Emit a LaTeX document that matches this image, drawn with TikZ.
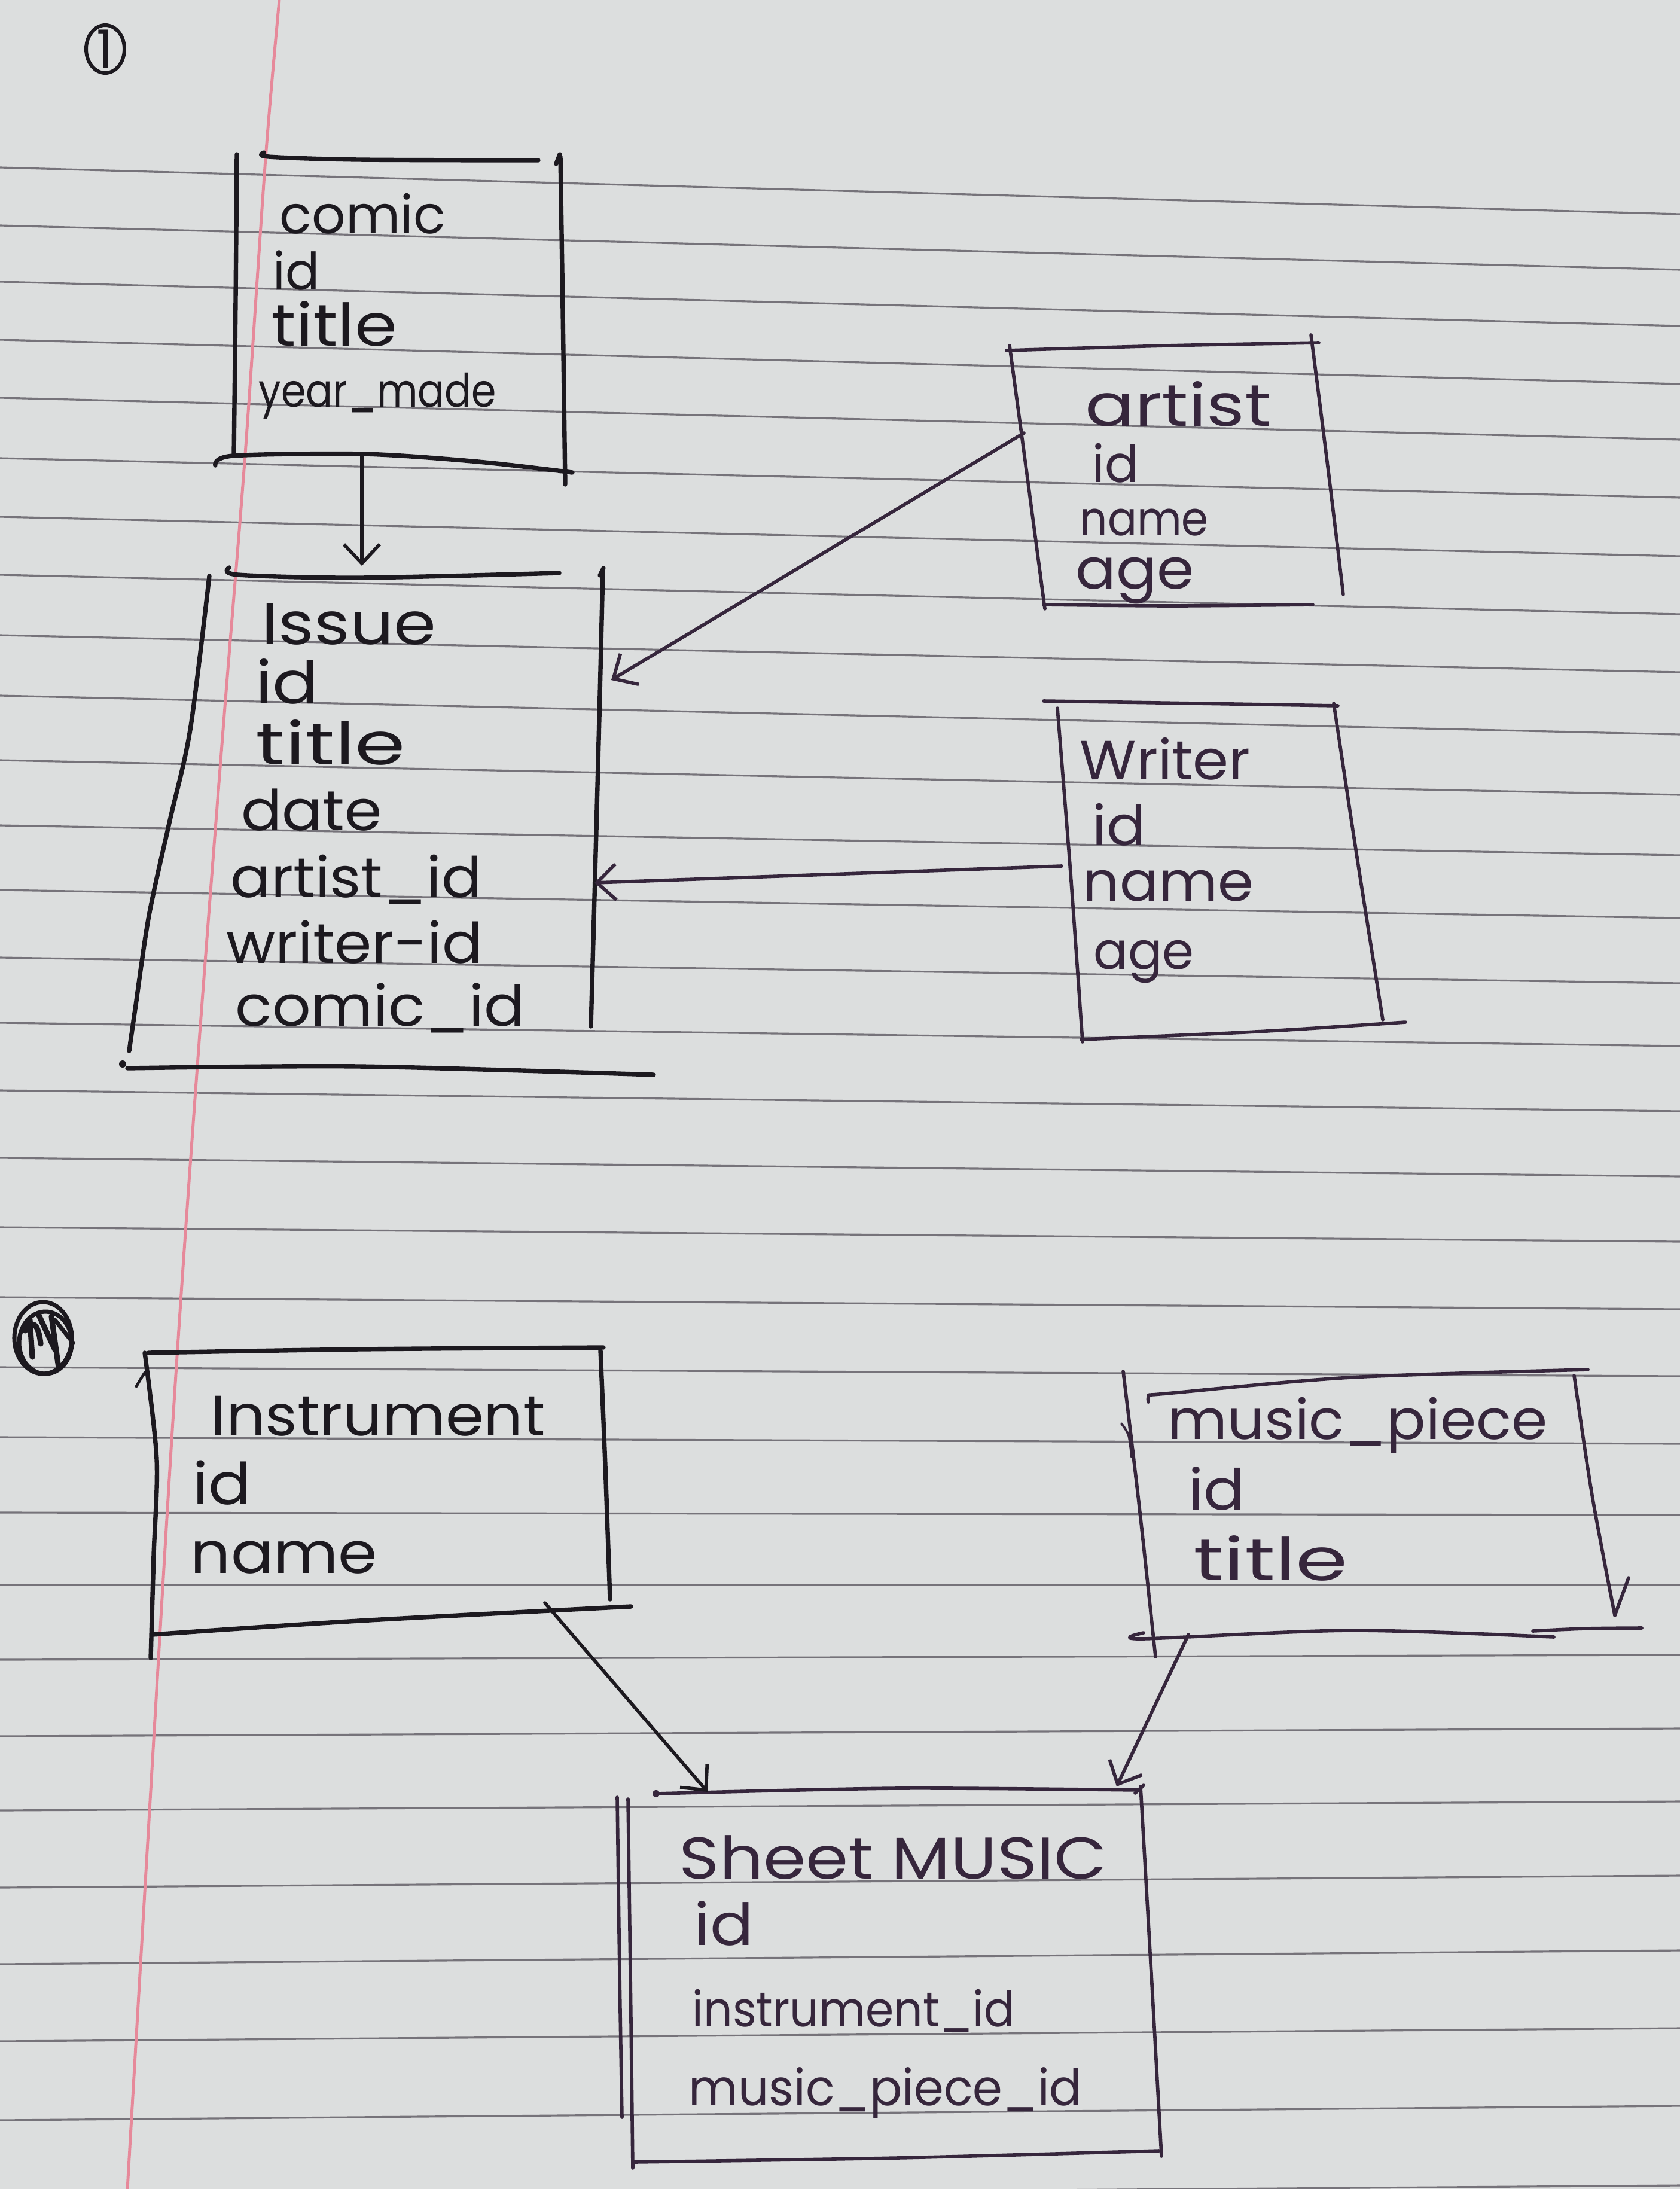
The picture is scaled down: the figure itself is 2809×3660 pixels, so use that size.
\documentclass[tikz,border=0pt]{standalone}
\usepackage{fontspec}
\setmainfont{Poppins}
\usepackage{graphicx}
\usetikzlibrary{arrows.meta}

\definecolor{paper}{HTML}{DCDEDE}
\definecolor{ruleclr}{HTML}{76737A}
\definecolor{marginclr}{HTML}{E6899A}
\definecolor{inkA}{HTML}{1C191F}
\definecolor{inkB}{HTML}{36263C}

% fit a word to a given width: a small uniform scale (kept within
% 0.88..1.12) and a horizontal stretch for the rest
\newdimen\hwht
\newcommand\hw[2]{%
  \setbox0\hbox{#2}%
  \pgfmathsetmacro\hwf{min(max(sqrt((#1)/(\the\wd0)),0.88),1.12)}%
  \hwht=\hwf\ht0\relax
  \resizebox{#1}{\hwht}{#2}}

\tikzset{
  field/.style={anchor=base west, inner sep=0pt, text=inkA, font=\fontsize{25}{30}\selectfont},
  fieldB/.style={field, text=inkB},
  pen/.style={draw=inkA, line width=2.1pt, line cap=round, line join=round},
  fine/.style={draw=inkB, line width=1.6pt, line cap=round, line join=round},
  link/.style={draw=inkA, line width=1.6pt, line cap=round,
    -{Straight Barb[length=9pt,width=17pt,line width=1.6pt]}},
  linkB/.style={link, draw=inkB},
}

\begin{document}
\begin{tikzpicture}[x=0.01cm,y=-0.01cm]
  % sheet of paper
  \fill[paper] (0,0) rectangle (2809,3660);
  \useasboundingbox (0,0) rectangle (2809,3660);

  % ruled lines
  \foreach \l/\r in {280/358, 377/451, 471/545, 568/642, 665/735, 766/832, 864/930,
      961/1027, 1062/1124, 1163/1228, 1271/1329, 1380/1430, 1488/1535, 1601/1644,
      1710/1749, 1823/1858, 1936/1967, 2052/2076, 2169/2189, 2286/2301, 2403/2414,
      2529/2533, 2650/2650, 2775/2767, 2903/2890, 3027/3012, 3156/3136, 3284/3261,
      3413/3391, 3545/3521, 3675/3654}
    \draw[ruleclr, line width=0.9pt] (0,\l) -- (2809,\r);

  % margin line
  \draw[marginclr, line width=1.4pt] plot[smooth] coordinates
    {(467,0) (444,265) (410,759) (373,1220) (327,1823) (285,2440) (213,3660)};

  % ---------- part 1 ----------
  \node[field, anchor=center] (sec-one) at (176,82) {1};
  \draw[pen, line width=1.7pt] (sec-one.center) ellipse [x radius=32, y radius=40];

  % comic
  \draw[pen] plot[smooth] coordinates {(396,258) (394,500) (391,762)};
  \draw[pen] plot[smooth] coordinates {(441,255) (449,262) (600,267) (900,268)};
  \draw[pen] (930,274) -- (936,258);
  \draw[pen] plot[smooth] coordinates {(937,262) (941,520) (945,810)};
  \draw[pen] plot[smooth] coordinates {(360,778) (390,762) (608,759) (800,772) (957,790)};
  \node[field] (comic-h) at (467,390) {\hw{2.77cm}{comic}};
  \node[field] (comic-id) at (456,484) {\hw{0.78cm}{id}};
  \node[field] (comic-title) at (453,578) {\hw{2.10cm}{title}};
  \node[field] (comic-year) at (432,680) {\hw{3.97cm}{year\_made}};

  % issue
  \draw[pen] plot[smooth] coordinates {(383,949) (398,961) (600,966) (935,958)};
  \draw[pen] plot[smooth] coordinates {(350,963) (318,1220) (283,1376) (249,1531) (226,1687) (216,1757)};
  \draw[pen] (1003,962) -- (1009,950);
  \draw[pen] plot[smooth] coordinates {(1008,955) (1002,1200) (994,1500) (988,1716)};
  \fill[inkA] (205,1779) circle [radius=6];
  \draw[pen] plot[smooth] coordinates {(213,1786) (600,1783) (1093,1797)};
  \node[field] (issue-h) at (437,1077) {\hw{2.91cm}{Issue}};
  \node[field] (issue-id) at (427,1176) {\hw{1.05cm}{id}};
  \node[field] (issue-title) at (427,1278) {\hw{2.50cm}{title}};
  \node[field] (issue-date) at (403,1388) {\hw{2.35cm}{date}};
  \node[field] (issue-artist) at (385,1500) {\hw{4.20cm}{artist\_id}};
  \node[field] (issue-writer) at (378,1610) {\hw{4.28cm}{writer-id}};
  \node[field] (issue-comic) at (393,1715) {\hw{4.84cm}{comic\_id}};

  % artist
  \draw[fine] plot[smooth] coordinates {(1683,586) (1950,578) (2205,573)};
  \draw[fine] plot[smooth] coordinates {(1688,578) (1718,800) (1747,1018)};
  \draw[fine] plot[smooth] coordinates {(2192,560) (2220,780) (2246,994)};
  \draw[fine] plot[smooth] coordinates {(1745,1011) (1960,1013) (2195,1011)};
  \node[fieldB] (artist-h) at (1814,712) {\hw{3.11cm}{artist}};
  \node[fieldB] (artist-id) at (1826,806) {\hw{0.77cm}{id}};
  \node[fieldB] (artist-name) at (1805,895) {\hw{2.15cm}{name}};
  \node[fieldB] (artist-age) at (1798,984) {\hw{1.98cm}{age}};

  % writer
  \draw[fine] plot[smooth] coordinates {(1745,1172) (2000,1176) (2237,1180)};
  \draw[fine] plot[smooth] coordinates {(1768,1184) (1790,1460) (1810,1742)};
  \draw[fine] plot[smooth] coordinates {(2230,1176) (2270,1440) (2312,1705)};
  \draw[fine] plot[smooth] coordinates {(1808,1738) (2100,1725) (2350,1709)};
  \node[fieldB] (writer-h) at (1805,1303) {\hw{2.85cm}{Writer}};
  \node[fieldB] (writer-id) at (1826,1413) {\hw{0.89cm}{id}};
  \node[fieldB] (writer-name) at (1810,1506) {\hw{2.85cm}{name}};
  \node[fieldB] (writer-age) at (1828,1620) {\hw{1.68cm}{age}};

  % connectors of part 1
  \coordinate (comic-out) at (605,762);
  \coordinate (issue-top) at (605,946);
  \coordinate (artist-w) at (1712,724);
  \coordinate (issue-e1) at (1022,1137);
  \coordinate (writer-w) at (1775,1448);
  \coordinate (issue-e2) at (994,1476);
  \draw[link] (comic-out) -- (issue-top);
  \draw[linkB] (artist-w) -- (issue-e1);
  \draw[linkB] (writer-w) -- (issue-e2);

  % ---------- part 2 ----------
  \coordinate (sec-two) at (72,2237);
  \begin{scope}[shift={(sec-two)}]
    \draw[pen, line width=2pt] (0,0) ellipse [x radius=48, y radius=60];
    \draw[pen, line width=2pt] (4,8) ellipse [x radius=44, y radius=52];
    \draw[pen, line width=2.6pt] (-22,-30) -- (-18,32);
    \draw[pen, line width=2.6pt] (-30,-12) .. controls (-20,-30) and (-8,-28) .. (-4,10);
    \draw[pen, line width=2.6pt] (-8,-40) -- (20,20);
    \draw[pen, line width=2.6pt] (14,-36) -- (26,50);
    \draw[pen, line width=2pt] (20,-30) -- (50,8);
  \end{scope}

  % instrument
  \draw[pen] plot[smooth] coordinates {(248,2262) (600,2256) (1009,2253)};
  \draw[pen] plot[smooth] coordinates {(242,2262) (262,2440) (257,2600) (252,2772)};
  \draw[pen, line width=1.3pt] plot[smooth] coordinates {(228,2318) (235,2306) (242,2295)};
  \draw[pen] plot[smooth] coordinates {(1004,2258) (1012,2450) (1020,2674)};
  \draw[pen] plot[smooth] coordinates {(255,2733) (600,2710) (1055,2686)};
  \node[field] (instr-h) at (352,2400) {\hw{5.59cm}{Instrument}};
  \node[field] (instr-id) at (322,2515) {\hw{0.98cm}{id}};
  \node[field] (instr-name) at (318,2630) {\hw{3.12cm}{name}};

  % music_piece
  \draw[fine] plot[smooth] coordinates {(1878,2293) (1905,2520) (1932,2770)};
  \draw[fine, line width=1.1pt] plot[smooth] coordinates {(1875,2380) (1887,2400) (1892,2436)};
  \draw[fine] plot[smooth] coordinates {(1920,2344) (1922,2333) (1950,2330) (2259,2303) (2655,2290)};
  \draw[fine] plot[smooth] coordinates {(2632,2300) (2662,2500) (2700,2701)};
  \draw[fine] (2700,2701) -- (2723,2638);
  \draw[fine] plot[smooth] coordinates {(2745,2722) (2650,2723) (2563,2727)};
  \draw[fine] plot[smooth] coordinates {(2598,2737) (2259,2726) (1909,2740) (1912,2730)};
  \node[fieldB] (piece-h) at (1952,2406) {\hw{6.34cm}{music\_piece}};
  \node[fieldB] (piece-id) at (1987,2524) {\hw{0.94cm}{id}};
  \node[fieldB] (piece-title) at (1995,2642) {\hw{2.58cm}{title}};

  % sheet music
  \fill[inkB] (1097,2999) circle [radius=6];
  \draw[fine] plot[smooth] coordinates {(1097,2999) (1500,2990) (1906,2993)};
  \draw[fine] (1898,2998) -- (1912,2985);
  \draw[fine] plot[smooth] coordinates {(1032,3005) (1036,3300) (1040,3540)};
  \draw[fine] plot[smooth] coordinates {(1050,3008) (1054,3300) (1058,3625)};
  \draw[fine] plot[smooth] coordinates {(1907,2987) (1925,3300) (1942,3605)};
  \draw[fine] plot[smooth] coordinates {(1058,3615) (1500,3608) (1938,3596)};
  \node[fieldB] (sheet-h) at (1135,3141) {\hw{7.15cm}{Sheet MUSIC}};
  \node[fieldB] (sheet-id) at (1160,3252) {\hw{0.99cm}{id}};
  \node[fieldB] (sheet-instr) at (1157,3388) {\hw{5.39cm}{instrument\_id}};
  \node[fieldB] (sheet-piece) at (1151,3520) {\hw{6.57cm}{music\_piece\_id}};

  % connectors of part 2
  \coordinate (instr-s) at (911,2680);
  \coordinate (sheet-nw) at (1183,2996);
  \coordinate (piece-s) at (1987,2733);
  \coordinate (sheet-ne) at (1867,2987);
  \draw[link] (instr-s) -- (sheet-nw);
  \draw[linkB] (piece-s) -- (sheet-ne);
\end{tikzpicture}
\end{document}
